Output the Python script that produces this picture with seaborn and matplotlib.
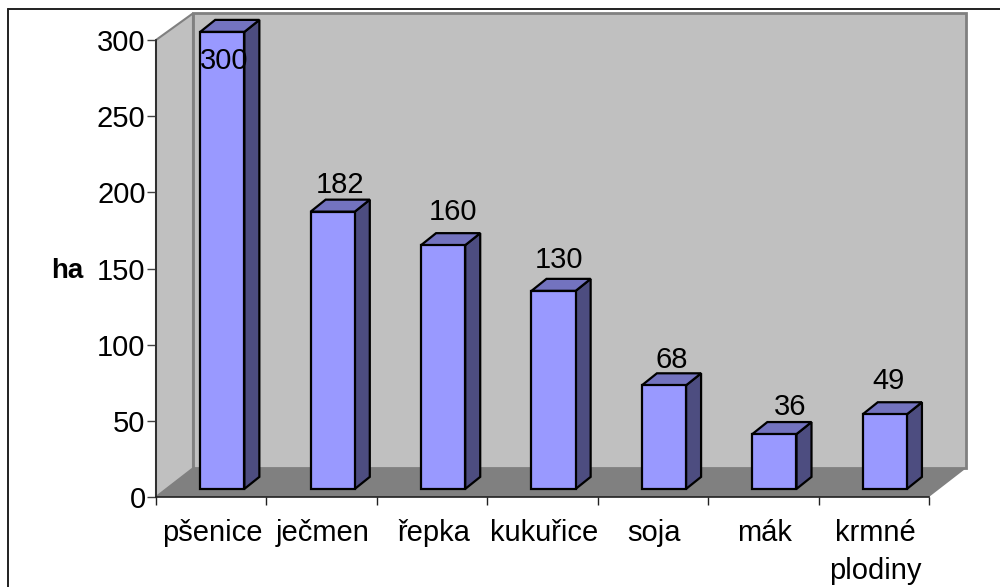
import matplotlib
matplotlib.use("Agg")
import matplotlib.pyplot as plt
import seaborn as sns
from matplotlib.lines import Line2D
from matplotlib.patches import Polygon

crops = ["pšenice", "ječmen", "řepka", "kukuřice", "soja", "mák", "krmné\nplodiny"]
hectares = [300, 182, 160, 130, 68, 36, 49]
y_ticks = [0, 50, 100, 150, 200, 250, 300]

FACE = "#9999FF"
SIDE = "#4D4D80"
TOP = "#7373BF"
WALL = "#C0C0C0"
FLOOR = "#808080"

# fake 3D offsets, in data units (x = categories, y = ha)
wall_dx, wall_dy = 0.335, 18.8
wall_top = 317.5
bar_dx, bar_dy = 0.10, 5.3
depth_dx, depth_dy = 0.136, 7.9

# the labels do not sit quite regularly in the original (points, right/up)
label_nudge = [(1.5, -21), (5.5, 19.5), (7, 24), (4, 22.5), (5.5, 18), (11, 19.5), (2.5, 24)]

sns.set_style("white")
plt.rcParams["font.family"] = ["Liberation Sans", "DejaVu Sans"]
plt.rcParams["text.color"] = "black"

fig = plt.figure(figsize=(10, 5.87), dpi=100)
ax = fig.add_axes([0.156, 90 / 587, 0.773, 457 / 587])

sns.barplot(x=crops, y=hectares, color=FACE, saturation=1, width=0.4,
            edgecolor="black", linewidth=1.6, ax=ax, zorder=5)

ax.set_xlim(-0.5, 6.5)
ax.set_ylim(0, 300)
ax.set_yticks(y_ticks)

# back wall, side wall, floor
x0, x1 = -0.5, 6.5
ax.add_patch(Polygon([(x0 + wall_dx, wall_dy), (x0 + wall_dx, wall_top), (x1 + wall_dx, wall_top), (x1 + wall_dx, wall_dy)],
                     fc=WALL, ec=FLOOR, lw=2, clip_on=False, zorder=1))
ax.add_patch(Polygon([(x0, 0), (x0, 300), (x0 + wall_dx, wall_top), (x0 + wall_dx, wall_dy)],
                     fc=WALL, ec=FLOOR, lw=1.5, clip_on=False, zorder=1))
ax.add_patch(Polygon([(x0, 0), (x0 + wall_dx, wall_dy), (x1 + wall_dx, wall_dy), (x1, 0)],
                     fc=FLOOR, ec="none", clip_on=False, zorder=2))

# push the bars onto the floor, add side + top faces
for bar, val, nudge in zip(ax.patches[:len(hectares)], hectares, label_nudge):
    bar.set_x(bar.get_x() + bar_dx)
    bar.set_y(bar.get_y() + bar_dy)
    bar.set_clip_on(False)
    l, r = bar.get_x(), bar.get_x() + bar.get_width()
    b, t = bar.get_y(), bar.get_y() + bar.get_height()
    ax.add_patch(Polygon([(r, b), (r + depth_dx, b + depth_dy), (r + depth_dx, t + depth_dy), (r, t)],
                         fc=SIDE, ec="black", lw=1.6, clip_on=False, zorder=4))
    ax.add_patch(Polygon([(l, t), (l + depth_dx, t + depth_dy), (r + depth_dx, t + depth_dy), (r, t)],
                         fc=TOP, ec="black", lw=1.6, clip_on=False, zorder=4))
    ax.annotate(str(val), ((l + r) / 2, t), xytext=nudge, textcoords="offset points",
                ha="center", va="center", fontsize=21, color="black", zorder=7, annotation_clip=False)

sns.despine(ax=ax, top=True, right=True)
for s in ("left", "bottom"):
    ax.spines[s].set_color("#202020")
    ax.spines[s].set_linewidth(1.2)
    ax.spines[s].set_zorder(3)
ax.set_xticks([x - 0.5 for x in range(8)], minor=False)
ax.set_xticklabels([])
ax.tick_params(axis="y", length=6.5, width=1, color="#404040", pad=1, labelsize=21, left=True, labelcolor="black")
ax.tick_params(axis="x", length=6, width=1, color="#202020", bottom=True)

# category names sit between the ticks
for i, name in enumerate(crops):
    ax.annotate(name, (i, 0), xytext=(1, -16), textcoords="offset points", color="black",
                ha="center", va="top", fontsize=21, linespacing=1.45, annotation_clip=False)

ax.set_xlabel("")
ax.set_ylabel("ha", rotation=0, fontsize=20, fontweight="bold", ha="center", va="center", color="black")
ax.yaxis.set_label_coords(-0.115, 0.495)

# chart frame, runs off the right and bottom of the picture
fig.add_artist(Line2D([8 / 1000, 8 / 1000], [0, 1 - 9 / 587], color="#202020", lw=1.4))
fig.add_artist(Line2D([8 / 1000, 1], [1 - 9 / 587, 1 - 9 / 587], color="#202020", lw=1.4))

fig.savefig("out.png", dpi=100)
